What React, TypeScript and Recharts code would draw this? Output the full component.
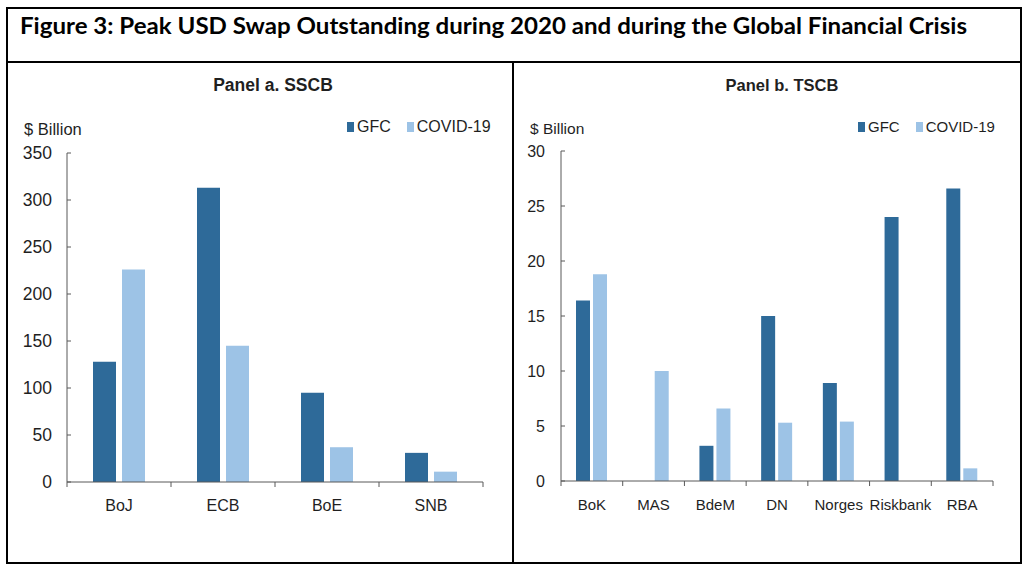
import { BarChart, Bar, XAxis, YAxis, Legend } from 'recharts'

const GFC_COLOR = '#2e6a99'
const COVID_COLOR = '#9dc3e6'
const AXIS_COLOR = '#595959'
const TEXT_COLOR = '#1f1f1f'
const FONT = '"Liberation Sans", Arial, sans-serif'

// Panel a: standing swap central banks
const sscbBanks = ['BoJ', 'ECB', 'BoE', 'SNB']
const sscbGfc = [128, 313, 95, 31]
const sscbCovid = [226, 145, 37, 11]
const sscbTicks = [0, 50, 100, 150, 200, 250, 300, 350]

// Panel b: temporary swap central banks
const tscbBanks = ['BoK', 'MAS', 'BdeM', 'DN', 'Norges', 'Riskbank', 'RBA']
const tscbGfc = [16.4, null, 3.2, 15.0, 8.9, 24.0, 26.6]
const tscbCovid = [18.8, 10.0, 6.6, 5.3, 5.4, null, 1.15]
const tscbTicks = [0, 5, 10, 15, 20, 25, 30]

const seriesOrder = ['GFC', 'COVID-19']

interface PanelProps {
  title: string
  banks: string[]
  gfc: (number | null)[]
  covid: (number | null)[]
  ticks: number[]
  left: number
  width: number
  yAxisWidth: number
  marginTop: number
  marginRight: number
  marginBottom: number
  barSize: number
  barGap: number
  titleX: number
  legendX: number
  fs: { title: number; label: number; legend: number; ytick: number; xtick: number }
  labelGap: number
  xLabelDy: number
}

const PANEL_TOP = 64
const PANEL_H = 498

function Panel(p: PanelProps) {
  const data = p.banks.map((name, i) => ({ name, gfc: p.gfc[i], covid: p.covid[i] }))
  const plotW = p.width - p.yAxisWidth - p.marginRight
  const band = plotW / p.banks.length
  const last = p.banks[p.banks.length - 1]

  const yTick = (props: any) => {
    const { x, y, payload } = props
    return (
      <g>
        <line x1={x} x2={x + 4} y1={y} y2={y} stroke={AXIS_COLOR} />
        <text x={x - p.labelGap} y={y} dy="0.35em" textAnchor="end" fontSize={p.fs.ytick} fill={TEXT_COLOR} fontFamily={FONT}>
          {payload.value}
        </text>
      </g>
    )
  }

  const xTick = (props: any) => {
    const { x, y, payload } = props
    return (
      <g>
        <line x1={x - band / 2} x2={x - band / 2} y1={y} y2={y + 5} stroke={AXIS_COLOR} />
        {payload.value === last && (
          <line x1={x + band / 2} x2={x + band / 2} y1={y} y2={y + 5} stroke={AXIS_COLOR} />
        )}
        <text x={x} y={y + p.xLabelDy} dy="0.35em" textAnchor="middle" fontSize={p.fs.xtick} fill={TEXT_COLOR} fontFamily={FONT}>
          {payload.value}
        </text>
      </g>
    )
  }

  const renderLegend = (props: any) => {
    const items = [...(props.payload || [])].sort(
      (a: any, b: any) => seriesOrder.indexOf(a.value) - seriesOrder.indexOf(b.value)
    )
    return (
      <div style={{ display: 'flex', alignItems: 'center', fontFamily: FONT, fontSize: p.fs.legend, color: TEXT_COLOR, whiteSpace: 'nowrap' }}>
        {items.map((entry: any, i: number) => (
          <div key={entry.value} style={{ display: 'flex', alignItems: 'center', marginLeft: i === 0 ? 0 : 16 }}>
            <span style={{ display: 'inline-block', width: 7, height: 10, background: entry.color, marginRight: 3 }} />
            <span>{entry.value}</span>
          </div>
        ))}
      </div>
    )
  }

  return (
    <div style={{ position: 'absolute', left: p.left, top: PANEL_TOP, width: p.width, height: PANEL_H }}>
      <div
        style={{
          position: 'absolute', left: p.titleX - 150, width: 300, top: 21 - 12, lineHeight: '24px',
          textAlign: 'center', fontFamily: FONT, fontWeight: 'bold', fontSize: p.fs.title, color: TEXT_COLOR,
        }}
      >
        {p.title}
      </div>
      <div
        style={{
          position: 'absolute', left: 16, top: 65 - 11, lineHeight: '22px',
          fontFamily: FONT, fontSize: p.fs.label, color: TEXT_COLOR,
        }}
      >
        $ Billion
      </div>
      <BarChart
        width={p.width}
        height={PANEL_H}
        data={data}
        barSize={p.barSize}
        barGap={p.barGap}
        margin={{ top: p.marginTop, right: p.marginRight, bottom: p.marginBottom, left: 0 }}
      >
        <XAxis
          dataKey="name"
          interval={0}
          height={30}
          stroke={AXIS_COLOR}
          tickSize={0}
          tickMargin={0}
          tick={xTick}
        />
        <YAxis
          width={p.yAxisWidth}
          domain={[p.ticks[0], p.ticks[p.ticks.length - 1]]}
          ticks={p.ticks}
          interval={0}
          stroke={AXIS_COLOR}
          tickSize={0}
          tickMargin={0}
          tick={yTick}
        />
        <Legend
          layout="horizontal"
          verticalAlign="middle"
          align="center"
          content={renderLegend}
          wrapperStyle={{ left: p.legendX, top: 65 - 11, width: 'auto', height: 22 }}
        />
        <Bar dataKey="gfc" name="GFC" fill={GFC_COLOR} isAnimationActive={false} />
        <Bar dataKey="covid" name="COVID-19" fill={COVID_COLOR} isAnimationActive={false} />
      </BarChart>
    </div>
  )
}

export default function App() {
  return (
    <div style={{ position: 'absolute', left: 0, top: 0, width: 1024, height: 567, background: '#fff', overflow: 'hidden' }}>
      <div style={{ position: 'absolute', left: 6, top: 7, width: 1016, height: 557, border: '2px solid #000', boxSizing: 'border-box' }} />
      <div style={{ position: 'absolute', left: 6, top: 61, width: 1016, height: 2, background: '#000' }} />
      <div style={{ position: 'absolute', left: 512, top: 61, width: 2, height: 503, background: '#000' }} />
      <svg style={{ position: 'absolute', left: 0, top: 0 }} width={1024} height={60}>
        <text x={20} y={34} textLength={947} lengthAdjust="spacingAndGlyphs" fontFamily="Lato, 'Open Sans', sans-serif" fontWeight="bold" fontSize={22.5} fill="#000">
          Figure 3: Peak USD Swap Outstanding during 2020 and during the Global Financial Crisis
        </text>
      </svg>
      <Panel
        title="Panel a. SSCB"
        banks={sscbBanks}
        gfc={sscbGfc}
        covid={sscbCovid}
        ticks={sscbTicks}
        left={8}
        width={504}
        yAxisWidth={59}
        marginTop={89}
        marginRight={29}
        marginBottom={50}
        barSize={23}
        barGap={6}
        titleX={265}
        legendX={339}
        fs={{ title: 17.5, label: 16.5, legend: 16, ytick: 17.5, xtick: 16 }}
        labelGap={15}
        xLabelDy={23}
      />
      <Panel
        title="Panel b. TSCB"
        banks={tscbBanks}
        gfc={tscbGfc}
        covid={tscbCovid}
        ticks={tscbTicks}
        left={514}
        width={506}
        yAxisWidth={47}
        marginTop={87}
        marginRight={27}
        marginBottom={51}
        barSize={14}
        barGap={3}
        titleX={268}
        legendX={344}
        fs={{ title: 16.5, label: 15.5, legend: 15, ytick: 16, xtick: 15 }}
        labelGap={16}
        xLabelDy={24}
      />
    </div>
  )
}
